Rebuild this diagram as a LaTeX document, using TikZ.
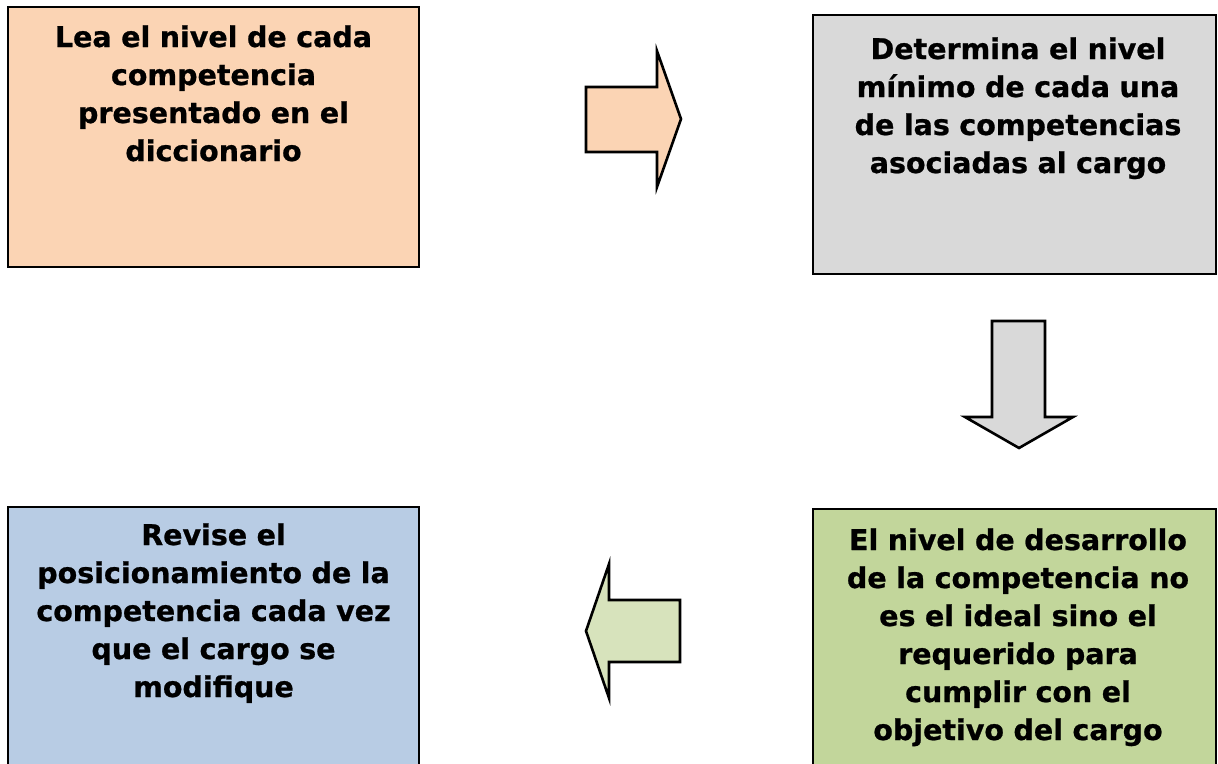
\documentclass[tikz,border=0pt]{standalone}
\usepackage{fontspec}
\setmainfont[BoldFeatures={FakeBold=0.8}]{DejaVu Sans}
\definecolor{cOrange}{HTML}{FBD4B4}
\definecolor{cGray}{HTML}{D9D9D9}
\definecolor{cGreen}{HTML}{C2D69B}
\definecolor{cBlue}{HTML}{B8CCE4}
\definecolor{cLGreen}{HTML}{D7E3BC}
\begin{document}
\begin{tikzpicture}[x=1pt,y=-1pt,
  box/.style={draw=black,line width=2.8pt},
  blockarrow/.style={draw=black,line width=2.6pt,line join=miter},
  lbl/.style={anchor=base,align=center,text width=420pt,inner sep=0pt,
    font=\fontsize{28.5}{38}\selectfont\bfseries}]
\clip (0,0) rectangle (1218,763);
\fill[white] (0,0) rectangle (1218,763);
% boxes
\filldraw[box,fill=cOrange] (8,7) rectangle (419,267);
\filldraw[box,fill=cGray] (813,15) rectangle (1216,274);
\filldraw[box,fill=cGreen] (813,509) rectangle (1216,800);
\filldraw[box,fill=cBlue] (8,507) rectangle (419,800);
% texts
\node[lbl] (t1) at (213.5,47) {Lea el nivel de cada\\competencia\\presentado en el\\diccionario};
\node[lbl] (t2) at (1018,59) {Determina el nivel\\mínimo de cada una\\de las competencias\\asociadas al cargo};
\node[lbl] (t3) at (1018,550) {El nivel de desarrollo\\de la competencia no\\es el ideal sino el\\requerido para\\cumplir con el\\objetivo del cargo};
\node[lbl] (t4) at (213.5,545) {Revise el\\posicionamiento de la\\competencia cada vez\\que el cargo se\\modifique};
% block arrows
\filldraw[blockarrow,fill=cOrange] (586,87) -- (657,87) -- (657,51) -- (681,119) -- (657,187) -- (657,152) -- (586,152) -- cycle;
\filldraw[blockarrow,fill=cGray] (992,321) -- (1045,321) -- (1045,417) -- (1073,417) -- (1019,448) -- (965,417) -- (992,417) -- cycle;
\filldraw[blockarrow,fill=cLGreen] (680,600) -- (609,600) -- (609,564) -- (586,631) -- (609,698) -- (609,662) -- (680,662) -- cycle;
\end{tikzpicture}
\end{document}
